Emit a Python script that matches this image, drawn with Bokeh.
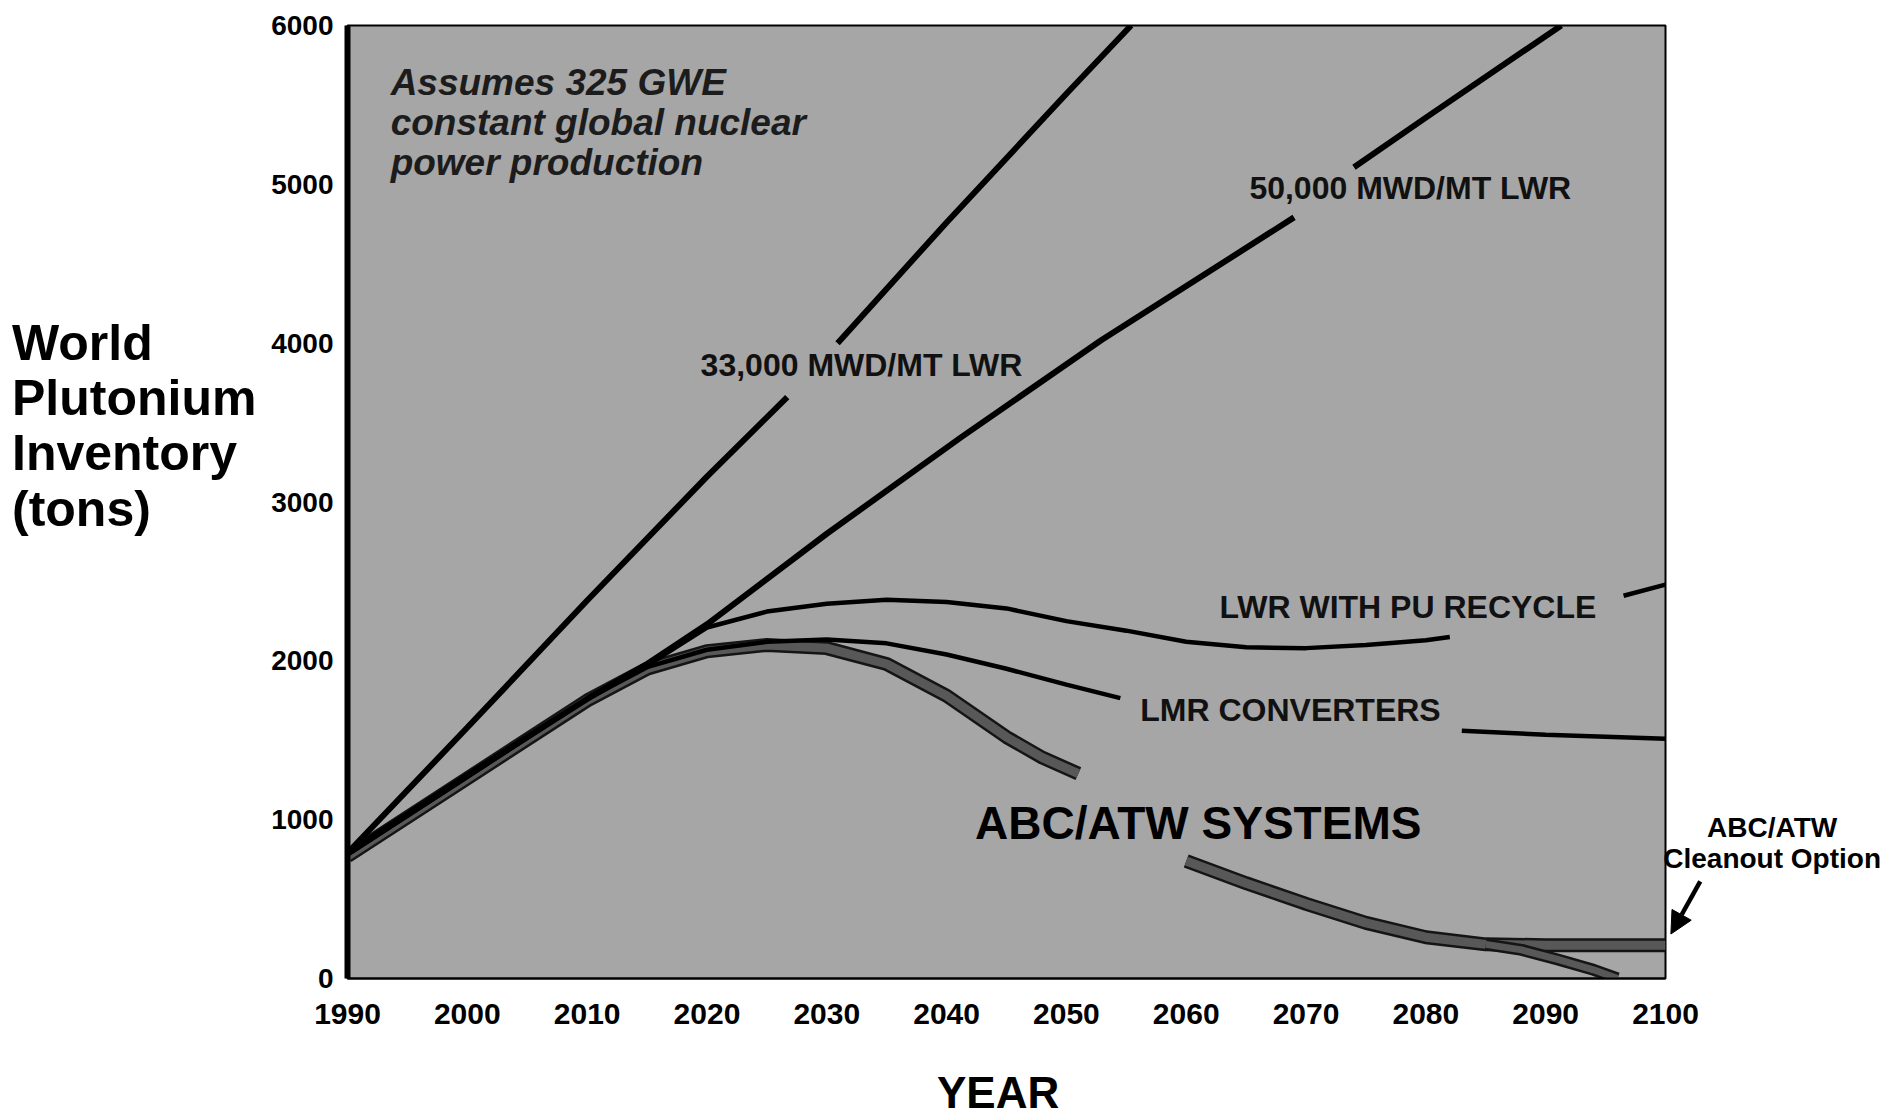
import math
from bokeh.plotting import figure
from bokeh.layouts import row
from bokeh.models import Range1d, FixedTicker, Label, Arrow, NormalHead
from bokeh.embed import file_html
from bokeh.resources import INLINE

NaN = float("nan")

# ---- data ----
years_33k = [1990, 2000, 2010, 2020, 2026.7, 2028.8, 2030.9, 2040, 2050, 2055.4]
pu_33k = [790, 1580, 2380, 3160, 3660, NaN, 4000, 4760, 5570, 6000]

years_50k = [1990, 2000, 2010, 2015, 2020, 2030, 2041.2, 2052.9, 2069, 2071.5, 2074, 2080, 2091.3]
pu_50k = [790, 1280, 1760, 1980, 2230, 2800, 3407, 4018, 4792, NaN, 5107, 5420, 6000]

years_recycle = [1990, 2000, 2010, 2015, 2020, 2025, 2030, 2035, 2040, 2045, 2050, 2055,
                 2060, 2065, 2070, 2075, 2080, 2082, 2090, 2096.5, 2100]
pu_recycle = [780, 1270, 1760, 1970, 2210, 2310, 2360, 2385, 2370, 2330, 2250, 2190,
              2120, 2085, 2080, 2100, 2130, 2150, NaN, 2410, 2480]

years_lmr = [1990, 2000, 2010, 2015, 2020, 2025, 2030, 2035, 2040, 2045, 2050, 2054.5,
             2070, 2083, 2090, 2100]
pu_lmr = [780, 1270, 1760, 1960, 2070, 2120, 2135, 2110, 2040, 1950, 1850, 1765,
          NaN, 1560, 1535, 1510]

years_abc = [1990, 2000, 2010, 2015, 2020, 2025, 2030, 2035, 2040, 2045, 2048, 2051,
             2055, 2060, 2065, 2070, 2075, 2080, 2085, 2090, 2100]
pu_abc = [770, 1260, 1750, 1950, 2060, 2100, 2080, 1980, 1780, 1520, 1390, 1290,
          NaN, 740, 600, 470, 350, 260, 215, 210, 210]

years_cleanout = [2085, 2088, 2091, 2094, 2096]
pu_cleanout = [215, 180, 120, 55, 0]

x_ticks = [1990, 2000, 2010, 2020, 2030, 2040, 2050, 2060, 2070, 2080, 2090, 2100]
y_ticks = [0, 1000, 2000, 3000, 4000, 5000, 6000]

y_title_lines = ["World", "Plutonium", "Inventory", "(tons)"]
note_lines = ["Assumes 325 GWE", "constant global nuclear", "power production"]
cleanout_lines = ["ABC/ATW", "Cleanout Option"]

FONT = "Liberation Sans"
BG = "#a6a6a6"

X0, X1, Y0, Y1 = 1990, 2100, 0, 6000
FRAME_W, FRAME_H = 1318, 953
TOTAL_W, TOTAL_H = 1897, 1119
LEFT, TOP, RIGHT = 347, 25, 40
BOTTOM = TOTAL_H - TOP - FRAME_H
MAIN_W = LEFT + FRAME_W + RIGHT
px_per_x = FRAME_W / (X1 - X0)

p = figure(width=MAIN_W, height=TOTAL_H,
           x_range=Range1d(X0, X1), y_range=Range1d(Y0, Y1),
           output_backend="svg", toolbar_location=None,
           min_border_left=LEFT, min_border_right=RIGHT,
           min_border_top=TOP, min_border_bottom=BOTTOM)

p.background_fill_color = BG
p.border_fill_color = "white"
p.xgrid.visible = False
p.ygrid.visible = False
p.outline_line_color = "black"
p.outline_line_width = 2

p.xaxis.ticker = FixedTicker(ticks=x_ticks)
p.yaxis.ticker = FixedTicker(ticks=y_ticks)
for ax in (p.xaxis, p.yaxis):
    ax.major_tick_line_color = None
    ax.minor_tick_line_color = None
    ax.major_tick_out = 0
    ax.major_tick_in = 0
    ax.major_label_text_font = FONT
    ax.major_label_text_font_style = "bold"
    ax.major_label_text_color = "black"
p.xaxis.major_label_text_font_size = "30px"
p.yaxis.major_label_text_font_size = "28px"
p.xaxis.major_label_standoff = 25
p.yaxis.major_label_standoff = 14
p.xaxis.axis_line_color = "black"
p.xaxis.axis_line_width = 2
p.yaxis.axis_line_color = "black"
p.yaxis.axis_line_width = 6

# ---- lines ----
p.line(years_abc, pu_abc, line_color="#151515", line_width=14, line_join="round")
p.line(years_abc, pu_abc, line_color="#585858", line_width=9, line_join="round")
p.line(years_cleanout, pu_cleanout, line_color="#151515", line_width=12)
p.line(years_cleanout, pu_cleanout, line_color="#585858", line_width=7)
p.line(years_lmr, pu_lmr, line_color="black", line_width=4.5)
p.line(years_recycle, pu_recycle, line_color="black", line_width=4.5)
p.line(years_50k, pu_50k, line_color="black", line_width=6)
p.line(years_33k, pu_33k, line_color="black", line_width=6)

# ---- annotations ----
def lab(fig, x, y, text, size, align="center", style="bold", color="#111111", place=None,
        line_height=1.2):
    l = Label(x=x, y=y, text=text, text_font=FONT, text_font_size=size,
              text_font_style=style, text_color=color, text_line_height=line_height,
              text_align=align, text_baseline="middle")
    if place is None:
        fig.add_layout(l)
    else:
        fig.add_layout(l, place)

lab(p, 2032.9, 3860, "33,000 MWD/MT LWR", "32px")
lab(p, 2078.7, 4975, "50,000 MWD/MT LWR", "32px")
lab(p, 2078.5, 2336, "LWR WITH PU RECYCLE", "32px")
lab(p, 2068.7, 1688, "LMR CONVERTERS", "32px")
lab(p, 2061.0, 976, "ABC/ATW SYSTEMS", "46px", color="#000000")

for i, t in enumerate(note_lines):
    lab(p, 1993.6, [5642, 5390, 5140][i], t, "37px", align="left", style="bold italic",
        color="#1c1c1c")

# texts outside the frame sit in the side panels (not clipped)
lab(p, 1962.0, 3480, "\n".join(y_title_lines), "50px", align="left", color="black",
    place="left", line_height=0.99)
lab(p, 2044.3, -720, "YEAR", "44px", color="black", place="below")

# ---- right-hand strip (transparent, overlapping the main plot's right border) ----
Q_LEFT = LEFT + FRAME_W - 24           # pixel where the strip starts
SIDE_W = TOTAL_W - Q_LEFT
qx0 = X1 + (Q_LEFT - LEFT - FRAME_W) / px_per_x
qx1 = qx0 + SIDE_W / px_per_x
q = figure(width=SIDE_W, height=TOTAL_H,
           x_range=Range1d(qx0, qx1), y_range=Range1d(Y0, Y1),
           output_backend="svg", toolbar_location=None,
           min_border_left=0, min_border_right=0, min_border_top=TOP,
           min_border_bottom=BOTTOM, margin=(0, 0, 0, -(MAIN_W - Q_LEFT)))
q.xaxis.visible = False
q.yaxis.visible = False
q.xgrid.visible = False
q.ygrid.visible = False
q.outline_line_color = None
q.background_fill_alpha = 0
q.border_fill_alpha = 0

lab(q, 2108.9, 853, "\n".join(cleanout_lines), "28px", color="black", line_height=0.99)
q.add_layout(Arrow(end=NormalHead(size=22, fill_color="black", line_color="black",
                                  line_width=1),
                   x_start=2102.9, y_start=611, x_end=2100.45, y_end=280,
                   line_color="black", line_width=4.5))

open("out.html", "w").write(file_html(row(p, q), INLINE))
